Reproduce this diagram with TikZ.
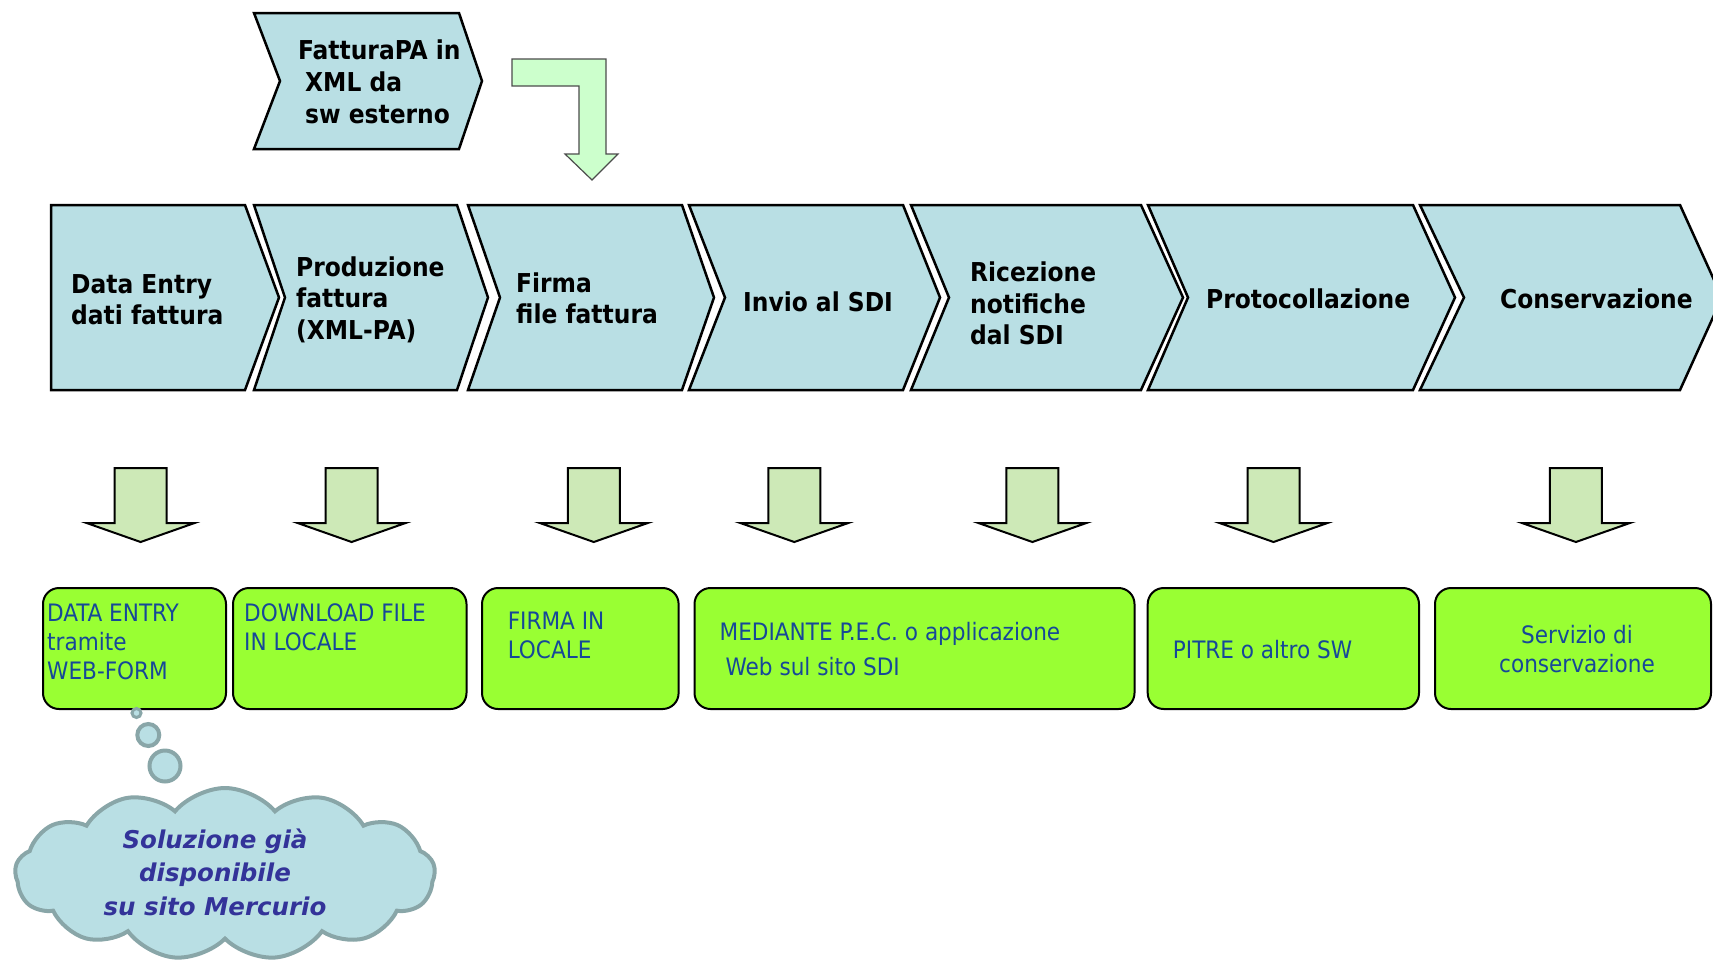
\documentclass[tikz,border=0pt]{standalone}
\usepackage{fontspec}
\setmainfont{DejaVu Sans Condensed}
\newfontfamily\nuvolafont{DejaVu Sans}
\usepackage{tikz}
\usetikzlibrary{shapes,arrows,positioning,calc}
\usepackage{xcolor}
\definecolor{celeste}{RGB}{185,223,228}
\definecolor{verdebox}{RGB}{153,255,51}
\definecolor{verdefreccia}{RGB}{205,233,183}
\definecolor{verdeL}{RGB}{204,255,204}
\definecolor{bordonuvola}{RGB}{137,166,168}
\definecolor{testoblu}{RGB}{22,72,152}
\definecolor{nuvolatesto}{RGB}{51,51,153}

\begin{document}
\begin{tikzpicture}[x=1pt, y=-1pt,
    fase/.style={draw=black, line width=2.5pt, fill=celeste, line join=miter},
    etich/.style={anchor=base west, align=left, inner sep=0pt, font=\fontsize{26}{31.7}\selectfont\bfseries},
    scatola/.style={rectangle, draw=black, line width=2pt, fill=verdebox, rounded corners=16pt},
    testo/.style={anchor=base west, align=left, inner sep=0pt, text=testoblu, font=\fontsize{24}{29}\selectfont},
    giu/.style={draw=black, line width=2pt, fill=verdefreccia, line join=miter},
    bolla/.style={circle, draw=bordonuvola, line width=4pt, fill=celeste, inner sep=0pt}
]
    \useasboundingbox (0,0) rectangle (1713,964);
    \clip (0,0) rectangle (1713,964);

    % Fattura da software esterno
    \draw[fase] (254,13) -- (459,13) -- (482,81) -- (459,149) -- (254,149) -- (280,81) -- cycle;
    \node[etich] (ext) at (298,123.3) {FatturaPA in\\\hspace*{7pt}XML da\\\hspace*{7pt}sw esterno};
    \draw[draw=black!70, line width=1.2pt, fill=verdeL] (512,59) -- (606,59) -- (606,154) -- (618,154)
        -- (592,180) -- (565,154) -- (579,154) -- (579,86) -- (512,86) -- cycle;

    % Fasi del processo
    \foreach \a/\n/\b/\c in {51/0/245/279, 254/31/457/488, 468/32/682/714, 689/36/903/940,
                             911/38/1141/1183, 1148/40/1413/1455, 1420/44/1680/1722} {
        \draw[fase] (\a,205) -- (\b,205) -- (\c,297.5) -- (\b,390) -- (\a,390) -- (\a+\n,297.5) -- cycle;
    }
    \node[etich] (f1) at (71,324.7) {Data Entry\\dati fattura};
    \node[etich] (f2) at (296,339.4) {Produzione\\fattura\\(XML-PA)};
    \node[etich] (f3) at (516,323.7) {Firma\\file fattura};
    \node[etich] (f4) at (743,311) {Invio al SDI};
    \node[etich] (f5) at (970,344.9) {Ricezione\\notifiche\\dal SDI};
    \node[etich] (f6) at (1206,308) {Protocollazione};
    \node[etich] (f7) at (1500,308) {Conservazione};

    % Frecce verso le soluzioni
    \foreach \x in {140.6,351.6,593.8,794.3,1032.4,1273.5,1575.9} {
        \draw[giu] (\x-26,468) -- (\x+26,468) -- (\x+26,523) -- (\x+54,523) -- (\x,542)
            -- (\x-54,523) -- (\x-26,523) -- cycle;
    }

    % Soluzioni
    \foreach \cx/\w [count=\i] in {134.5/183, 349.75/233.5, 580.3/196.6, 914.5/440, 1283.35/271.3, 1573/276} {
        \node[scatola, minimum width=\w pt, minimum height=121pt] (b\i) at (\cx,648.5) {};
    }
    \node[testo] (t1) at (47,679.7) {DATA ENTRY\\tramite\\WEB-FORM};
    \node[testo] (t2) at (244,650) {DOWNLOAD FILE\\IN LOCALE};
    \node[testo] (t3) at (507.6,658) {FIRMA IN\\LOCALE};
    \node[testo] (t4) at (719.5,675) {MEDIANTE P.E.C. o applicazione\\[6pt]\hspace*{6pt}Web sul sito SDI};
    \node[testo] (t5) at (1172.7,658) {PITRE o altro SW};
    \node[testo, anchor=base, align=center] (t6) at (1577,672) {Servizio di\\conservazione};

    % Nuvoletta
    \node[bolla, minimum size=9pt, line width=3pt] (bo1) at (136.5,713) {};
    \node[bolla, minimum size=22pt] (bo2) at (148.3,735) {};
    \node[bolla, minimum size=31pt] (bo3) at (165,766) {};
    \node[cloud, cloud puffs=13, cloud puff arc=100, cloud ignores aspect, draw=bordonuvola, line width=4pt,
          fill=celeste, minimum width=420pt, minimum height=172pt] (nuv) at (225,874) {};
    \node[anchor=base, align=center, inner sep=0pt, text=nuvolatesto,
          font=\nuvolafont\fontsize{24.5}{33.5}\selectfont\bfseries\itshape] (sol) at (215,915)
        {Soluzione già\\disponibile\\su sito Mercurio};
\end{tikzpicture}
\end{document}
